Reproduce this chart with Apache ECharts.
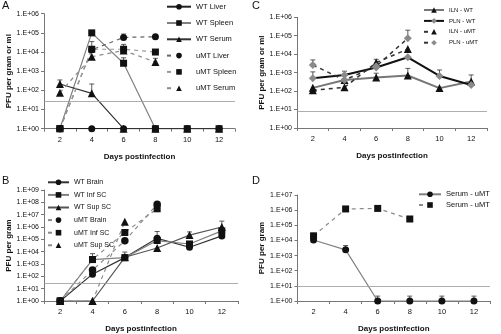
<!DOCTYPE html>
<html>
<head>
<meta charset="utf-8">
<script src="https://cdn.jsdelivr.net/npm/echarts@6/dist/echarts.min.js"></script>
<style>
  html, body { margin: 0; padding: 0; background: #fff; }
  #chart { width: 501px; height: 334px; }
</style>
</head>
<body>
<div id="chart"></div>
<script>
// 横轴：感染后天数
const days = ['2', '4', '6', '8', '10', '12'];

// A 组
const wtLiver = [1, 1, 1, 1, 1, 1];
const wtSpleen = [1, 100000, 2600, 1, 1, 1];
const wtSerum = [215, 70, 1, 1, 1, 1];
const umtLiver = [1, 13000, 58000, 63000, null, null];
const umtSpleen = [1, 14000, 14000, 10000, null, null];
const umtSerum = [75, 5700, 12000, 3000, null, null];
// 误差线 [天数下标, 均值, 上限]
const errA = [[0, 215, 350], [1, 70, 215], [1, 14000, 35000], [2, 2600, 5000], [2, 58000, 87000], [2, 14000, 25000], [3, 3000, 4700]];

// B 组
const wtBrain = [1, 150, 3300, 120000, 23000, 190000];
const wtInfSC = [1, 2300, 3300, 80000, 42000, 480000];
const wtSupSC = [1, 1, 3500, 20000, 220000, 1000000];
const umtBrain = [1, 320, 77000, 70000000, null, null];
const umtInfSC = [1, 2300, 360000, 30000000, null, null];
const umtSupSC = [1, 1, 2700000, null, null, null];
const errB = [[1, 2300, 6900], [2, 3300, 9300], [3, 120000, 430000], [4, 220000, 400000], [5, 1000000, 3000000]];

// C 组
const ilnWT = [150, 400, 550, 700, 145, 330];
const plnWT = [500, 750, 1900, 6800, 660, 215];
const ilnUMT = [110, 160, 3500, 19000, null, null];
const plnUMT = [2600, 400, 2200, 73000, null, null];
const errC = [[0, 2600, 4900], [0, 500, 1100], [1, 750, 1200], [2, 1900, 5300], [2, 550, 930], [3, 73000, 200000], [3, 700, 1700], [4, 660, 1400], [5, 330, 750]];

// D 组
const serumWT = [10700, 2400, 1, 1, 1, 1];
const serumUMT = [20000, 1200000, 1300000, 260000, null, null];
const errD = [[0, 20000, 30000], [1, 2400, 4600], [2, 1, 2.1], [3, 1, 2.1], [4, 1, 2.1], [5, 1, 2.1]];

// 检测下限
const limits = [28, 28, 8, 10];

const FONT = "'Liberation Sans', Arial, sans-serif";
const myChart = echarts.init(document.getElementById('chart'));

const grids = [
  { left: 44, top: 13.7, width: 191, height: 115 },
  { left: 44, top: 190, width: 194, height: 113.3 },
  { left: 297, top: 17.3, width: 190, height: 110.7 },
  { left: 297.5, top: 195, width: 192.5, height: 108.3 }
];
const yRange = [[1, 1e6, 6], [1, 1e9, 9], [1, 1e6, 6], [1, 1e7, 7]];
const yNames = ['PFU per gram or ml', 'PFU per gram', 'PFU per gram or ml', 'PFU per gram'];

function line(name, data, g, color, symbol, opts) {
  opts = opts || {};
  return {
    name: name,
    type: 'line',
    xAxisIndex: g,
    yAxisIndex: g,
    data: data,
    connectNulls: false,
    symbol: symbol,
    symbolSize: opts.size || 7,
    itemStyle: { color: opts.marker || '#111' },
    lineStyle: {
      color: color,
      width: opts.width || 1.2,
      type: opts.dash ? [4, 4] : 'solid'
    },
    animation: false,
    z: 3
  };
}

function errBars(data, g) {
  return {
    type: 'custom',
    xAxisIndex: g,
    yAxisIndex: g,
    data: data,
    silent: true,
    z: 2,
    animation: false,
    renderItem: function (params, api) {
      const p0 = api.coord([api.value(0), api.value(1)]);
      const p1 = api.coord([api.value(0), api.value(2)]);
      const st = { stroke: '#333', lineWidth: 0.8 };
      return {
        type: 'group',
        children: [
          { type: 'line', shape: { x1: p0[0], y1: p0[1], x2: p1[0], y2: p1[1] }, style: st },
          { type: 'line', shape: { x1: p1[0] - 2.5, y1: p1[1], x2: p1[0] + 2.5, y2: p1[1] }, style: st }
        ]
      };
    }
  };
}

function limitLine(g) {
  return {
    type: 'line',
    xAxisIndex: g,
    yAxisIndex: g,
    data: [],
    silent: true,
    markLine: {
      silent: true,
      symbol: 'none',
      label: { show: false },
      lineStyle: { color: '#999', width: 0.8, type: 'solid' },
      data: [{ yAxis: limits[g] }],
      animation: false
    }
  };
}

const series = [
  line('WT Liver', wtLiver, 0, '#222', 'circle'),
  line('WT Spleen', wtSpleen, 0, '#808080', 'rect'),
  line('WT Serum', wtSerum, 0, '#333', 'triangle', { size: 8 }),
  line('uMT Liver', umtLiver, 0, '#666', 'circle', { dash: true }),
  line('uMT Spleen', umtSpleen, 0, '#999', 'rect', { dash: true }),
  line('uMT Serum', umtSerum, 0, '#8c8c8c', 'triangle', { dash: true, size: 8 }),
  errBars(errA, 0), limitLine(0),

  line('WT Brain', wtBrain, 1, '#333', 'circle'),
  line('WT Inf SC', wtInfSC, 1, '#808080', 'rect'),
  line('WT Sup SC', wtSupSC, 1, '#555', 'triangle', { size: 8 }),
  line('uMT Brain', umtBrain, 1, '#8c8c8c', 'circle', { dash: true, size: 7.5 }),
  line('uMT Inf SC', umtInfSC, 1, '#8c8c8c', 'rect', { dash: true }),
  line('uMT Sup SC', umtSupSC, 1, '#8c8c8c', 'triangle', { dash: true, size: 8 }),
  errBars(errB, 1), limitLine(1),

  line('ILN - WT', ilnWT, 2, '#777', 'triangle', { width: 2, size: 8 }),
  line('PLN - WT', plnWT, 2, '#111', 'diamond', { width: 2, marker: '#8a8a8a', size: 8 }),
  line('ILN - uMT', ilnUMT, 2, '#333', 'triangle', { dash: true, width: 1.5, size: 8 }),
  line('PLN - uMT', plnUMT, 2, '#333', 'diamond', { dash: true, width: 1.5, marker: '#8a8a8a', size: 8 }),
  errBars(errC, 2), limitLine(2),

  line('Serum - uMT', serumWT, 3, '#808080', 'circle'),
  line('Serum - uMT ', serumUMT, 3, '#8c8c8c', 'rect', { dash: true }),
  errBars(errD, 3), limitLine(3)
];

// 虚线系列的图例只画一小段
function legend(names, left, top, w, fs, lh, gap) {
  return {
    data: names.map(n => n.indexOf('uMT') >= 0 && n !== 'Serum - uMT'
      ? { name: n, lineStyle: { type: [4, 40] } }
      : { name: n }),
    orient: 'vertical',
    left: left,
    top: top,
    itemWidth: w,
    itemHeight: 7,
    itemGap: gap,
    padding: 0,
    selectedMode: false,
    textStyle: { fontFamily: FONT, fontSize: fs, lineHeight: lh, color: '#111' }
  };
}

let option = {
  backgroundColor: '#fff',
  animation: false,
  title: [
    { text: 'A', left: 2, top: 0 },
    { text: 'B', left: 2, top: 175 },
    { text: 'C', left: 252, top: 0 },
    { text: 'D', left: 252, top: 175 }
  ].map(t => Object.assign(t, { padding: 0, textStyle: { fontFamily: FONT, fontSize: 11, fontWeight: 'normal', color: '#111' } })),
  grid: grids,
  xAxis: grids.map((g, i) => ({
    type: 'category',
    gridIndex: i,
    data: days,
    name: 'Days postinfection',
    nameLocation: 'middle',
    nameGap: 24,
    nameTextStyle: { fontFamily: FONT, fontSize: 8, fontWeight: 'bold', color: '#111' },
    axisLine: { lineStyle: { color: '#777', width: 1 } },
    axisTick: { show: true, length: 3, lineStyle: { color: '#777' } },
    axisLabel: { fontFamily: FONT, fontSize: 7.5, color: '#111', margin: 7 }
  })),
  yAxis: grids.map((g, i) => ({
    type: 'log',
    logBase: 10,
    gridIndex: i,
    min: yRange[i][0],
    max: yRange[i][1],
    splitNumber: yRange[i][2],
    name: yNames[i],
    nameLocation: 'middle',
    nameGap: 31,
    nameTextStyle: { fontFamily: FONT, fontSize: 8, fontWeight: 'bold', color: '#111' },
    axisLine: { show: true, lineStyle: { color: '#777', width: 1 } },
    axisTick: { show: true, length: 3, lineStyle: { color: '#777' } },
    splitLine: { show: false },
    axisLabel: {
      fontFamily: FONT, fontSize: 7, color: '#111', margin: 5,
      formatter: function (v) {
        const e = Math.round(Math.log10(v));
        return '1.E+' + (e < 10 ? '0' + e : e);
      }
    }
  })),
  legend: [
    legend(['WT Liver', 'WT Spleen', 'WT Serum', 'uMT Liver', 'uMT Spleen', 'uMT Serum'], 166, 1.7, 24, 7.5, 10, 6.3),
    legend(['WT Brain', 'WT Inf SC', 'WT Sup SC', 'uMT Brain', 'uMT Inf SC', 'uMT Sup SC'], 47, 177.8, 21, 7, 9, 3.6),
    legend(['ILN - WT', 'PLN - WT', 'ILN - uMT', 'PLN - uMT'], 423, 6, 20, 6, 8, 2.9),
    legend(['Serum - uMT', 'Serum - uMT '], 418, 189.8, 22, 7.5, 9, 1.7)
  ],
  series: series
};

myChart.setOption(option);
</script>
</body>
</html>
